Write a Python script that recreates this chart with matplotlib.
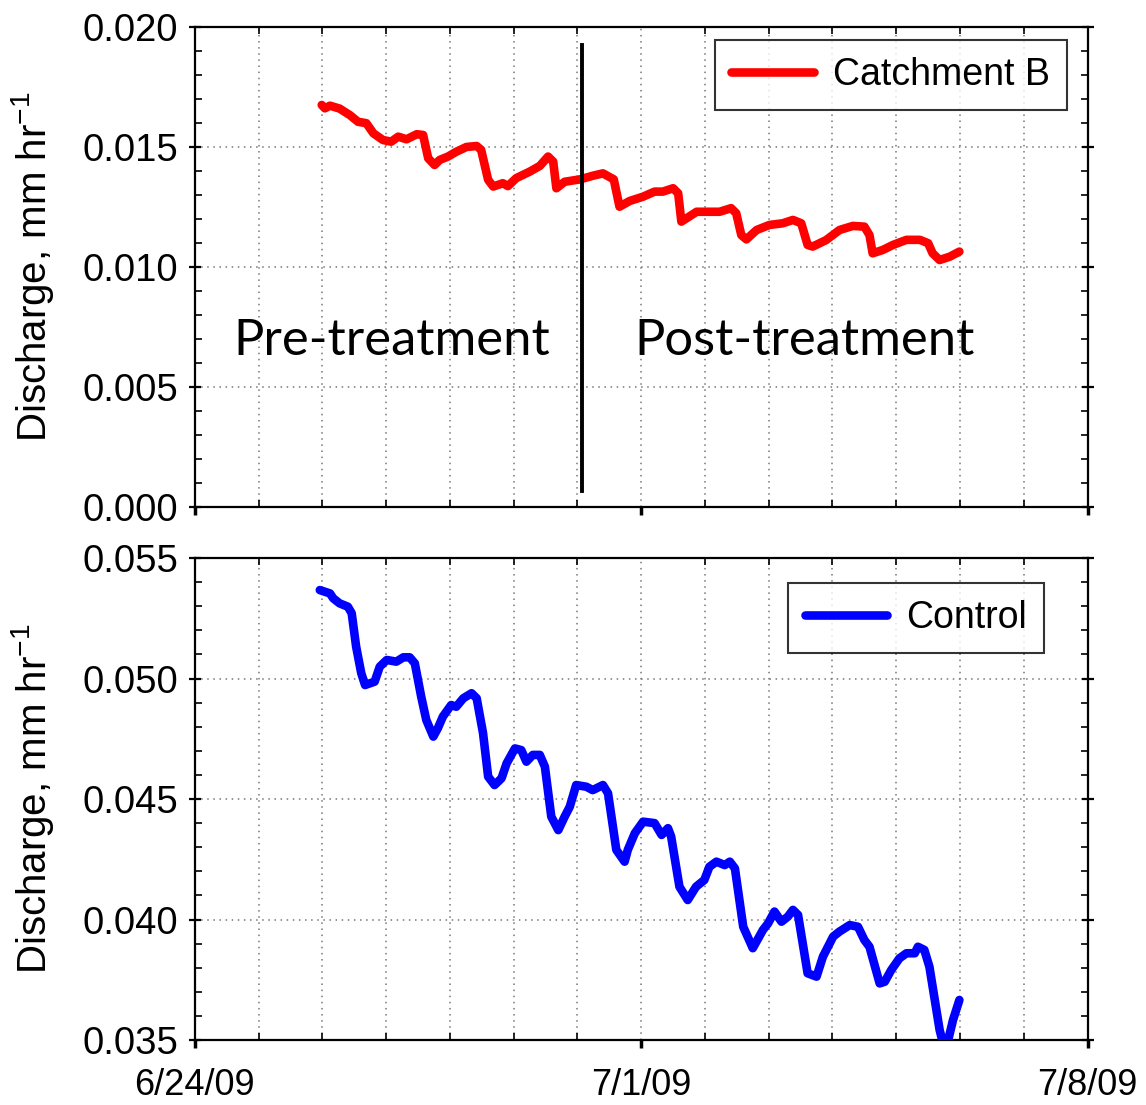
import datetime as dt
import matplotlib
matplotlib.use('Agg')
import matplotlib.pyplot as plt
import matplotlib.dates as mdates
from matplotlib.ticker import MultipleLocator

plt.rcParams['font.family'] = ['Liberation Sans', 'DejaVu Sans']
plt.rcParams['mathtext.default'] = 'regular'

# data: days after 6/24/09, discharge in mm/hr
catch_days = [1.99, 2.04, 2.12, 2.27, 2.43, 2.56, 2.69, 2.80, 2.95, 3.08, 3.19, 3.32, 3.48, 3.58,
              3.66, 3.76, 3.84, 3.97, 4.10, 4.26, 4.42, 4.49, 4.60, 4.68, 4.83, 4.91, 5.04, 5.25,
              5.41, 5.54, 5.62, 5.67, 5.80, 6.04, 6.24, 6.40, 6.57, 6.66, 6.82, 7.03, 7.21, 7.34,
              7.50, 7.58, 7.63, 7.87, 8.07, 8.23, 8.41, 8.49, 8.57, 8.65, 8.81, 9.01, 9.22, 9.38,
              9.51, 9.61, 9.69, 9.90, 10.11, 10.32, 10.50, 10.58, 10.63, 10.79, 10.95, 11.16,
              11.37, 11.50, 11.57, 11.68, 11.84, 11.99]
catch_q = [0.01675, 0.01661, 0.01672, 0.01660, 0.01633, 0.01605, 0.01599, 0.01557, 0.01529, 0.01522,
           0.01543, 0.01532, 0.01553, 0.01550, 0.01453, 0.01425, 0.01446, 0.01460, 0.01480, 0.01500,
           0.01504, 0.01488, 0.01363, 0.01335, 0.01349, 0.01337, 0.01370, 0.01397, 0.01421, 0.01460,
           0.01439, 0.01328, 0.01355, 0.01365, 0.01380, 0.01390, 0.01365, 0.01251, 0.01275, 0.01293,
           0.01314, 0.01314, 0.01328, 0.01307, 0.01189, 0.01230, 0.01230, 0.01230, 0.01245, 0.01224,
           0.01133, 0.01115, 0.01154, 0.01175, 0.01182, 0.01196, 0.01182, 0.01092, 0.01085, 0.01112,
           0.01154, 0.01171, 0.01168, 0.01133, 0.01057, 0.01071, 0.01092, 0.01113, 0.01113, 0.01099,
           0.01057, 0.01029, 0.01043, 0.01064]

ctrl_days = [1.96, 2.12, 2.17, 2.27, 2.40, 2.46, 2.53, 2.61, 2.67, 2.82, 2.90, 3.01, 3.16, 3.27, 3.37,
             3.45, 3.55, 3.63, 3.74, 3.81, 3.89, 4.02, 4.10, 4.21, 4.34, 4.42, 4.52, 4.60, 4.70, 4.81,
             4.89, 5.02, 5.12, 5.20, 5.30, 5.41, 5.49, 5.59, 5.70, 5.80, 5.88, 5.98, 6.14, 6.24, 6.40,
             6.48, 6.61, 6.74, 6.79, 6.90, 7.03, 7.21, 7.32, 7.42, 7.47, 7.60, 7.73, 7.86, 7.99, 8.07,
             8.18, 8.31, 8.39, 8.47, 8.60, 8.75, 8.91, 8.99, 9.09, 9.20, 9.30, 9.38, 9.46, 9.61, 9.75,
             9.85, 10.01, 10.11, 10.27, 10.40, 10.50, 10.58, 10.74, 10.82, 10.92, 11.05, 11.16, 11.29,
             11.34, 11.44, 11.52, 11.68, 11.73, 11.81, 11.89, 11.99]
ctrl_q = [0.05367, 0.05353, 0.05333, 0.05312, 0.05298, 0.05271, 0.05132, 0.05022, 0.04973, 0.04987,
          0.05049, 0.05077, 0.05070, 0.05088, 0.05088, 0.05063, 0.04925, 0.04828, 0.04759, 0.04793,
          0.04842, 0.04890, 0.04883, 0.04918, 0.04939, 0.04918, 0.04773, 0.04593, 0.04558, 0.04586,
          0.04648, 0.04710, 0.04703, 0.04655, 0.04683, 0.04683, 0.04634, 0.04427, 0.04371, 0.04427,
          0.04468, 0.04558, 0.04551, 0.04537, 0.04558, 0.04524, 0.04289, 0.04240, 0.04289, 0.04358,
          0.04406, 0.04400, 0.04351, 0.04379, 0.04344, 0.04136, 0.04081, 0.04136, 0.04164, 0.04219,
          0.04240, 0.04226, 0.04240, 0.04212, 0.03970, 0.03881, 0.03957, 0.03984, 0.04033, 0.03991,
          0.04012, 0.04040, 0.04019, 0.03777, 0.03763, 0.03846, 0.03929, 0.03950, 0.03977, 0.03970,
          0.03915, 0.03887, 0.03735, 0.03742, 0.03790, 0.03839, 0.03860, 0.03860, 0.03887, 0.03874,
          0.03804, 0.03542, 0.03490, 0.03495, 0.03583, 0.03666]

treatment_day = 6.07
xtick_labels = ['6/24/09', '7/1/09', '7/8/09']

t0 = dt.datetime(2009, 6, 24)
to_dt = lambda days: [t0 + dt.timedelta(days=d) for d in days]

fig = plt.figure(figsize=(11.46, 11.05), dpi=100)
ax1 = fig.add_axes([0.170, 0.5412, 0.779, 0.4344])
ax2 = fig.add_axes([0.170, 0.0588, 0.779, 0.4362])

ax1.plot(to_dt(catch_days), catch_q, color='#ff0000', lw=6.2, solid_joinstyle='round',
         solid_capstyle='round', label='Catchment B', zorder=3)
ax2.plot(to_dt(ctrl_days), ctrl_q, color='#0000ff', lw=6.2, solid_joinstyle='round',
         solid_capstyle='round', label='Control', zorder=3)

ax1.plot(to_dt([treatment_day, treatment_day]), [0.00067, 0.01925], color='black', lw=2.8, zorder=4)
ax1.text(t0 + dt.timedelta(days=3.09), 0.0069, 'Pre-treatment', family='Lato',
         fontsize=36.5, ha='center', va='center')
ax1.text(t0 + dt.timedelta(days=9.56), 0.0069, 'Post-treatment', family='Lato',
         fontsize=36.5, ha='center', va='center')

ax1.set_ylim(0, 0.020)
ax2.set_ylim(0.035, 0.055)

majors = [t0, t0 + dt.timedelta(days=7), t0 + dt.timedelta(days=14)]
for ax in (ax1, ax2):
    ax.set_xlim(majors[0], majors[-1])
    ax.set_xticks(majors)
    ax.xaxis.set_minor_locator(mdates.DayLocator())
    ax.yaxis.set_major_locator(MultipleLocator(0.005))
    ax.yaxis.set_minor_locator(MultipleLocator(0.001))
    ax.yaxis.set_major_formatter(matplotlib.ticker.FormatStrFormatter('%.3f'))
    ax.grid(True, which='major', axis='y', ls=(0, (1, 3)), color='#777777', lw=1.1)
    ax.grid(True, which='both', axis='x', ls=(0, (1, 3)), color='#777777', lw=1.1)
    ax.set_axisbelow(True)
    ax.tick_params(axis='y', which='major', direction='inout', length=8, width=1.6,
                   labelsize=27.5, pad=8, left=True, right=True)
    ax.tick_params(axis='y', which='minor', direction='in', length=5, width=1.2,
                   left=True, right=True)
    ax.tick_params(axis='x', which='major', direction='out', length=6, width=2.5,
                   labelsize=26, pad=14, top=False)
    ax.tick_params(axis='x', which='minor', direction='in', length=5, width=1.2,
                   top=True, bottom=True)
    for s in ax.spines.values():
        s.set_linewidth(1.6)
    ax.set_ylabel('Discharge, mm hr$^{-1}$', fontsize=29)
    ax.yaxis.set_label_coords(-0.155, 0.5)
    leg = ax.legend(loc='upper right', fontsize=27, frameon=True, fancybox=False,
                    handlelength=2.2, borderpad=0.45, handletextpad=0.5, borderaxespad=0,
                    bbox_to_anchor=(0.9765, 0.973) if ax is ax1 else (0.951, 0.948))
    leg.get_frame().set_edgecolor('black')
    leg.get_frame().set_linewidth(1.5)

ax1.set_xticklabels([])
ax2.set_xticklabels(xtick_labels)

fig.savefig('out.png', dpi=100)
